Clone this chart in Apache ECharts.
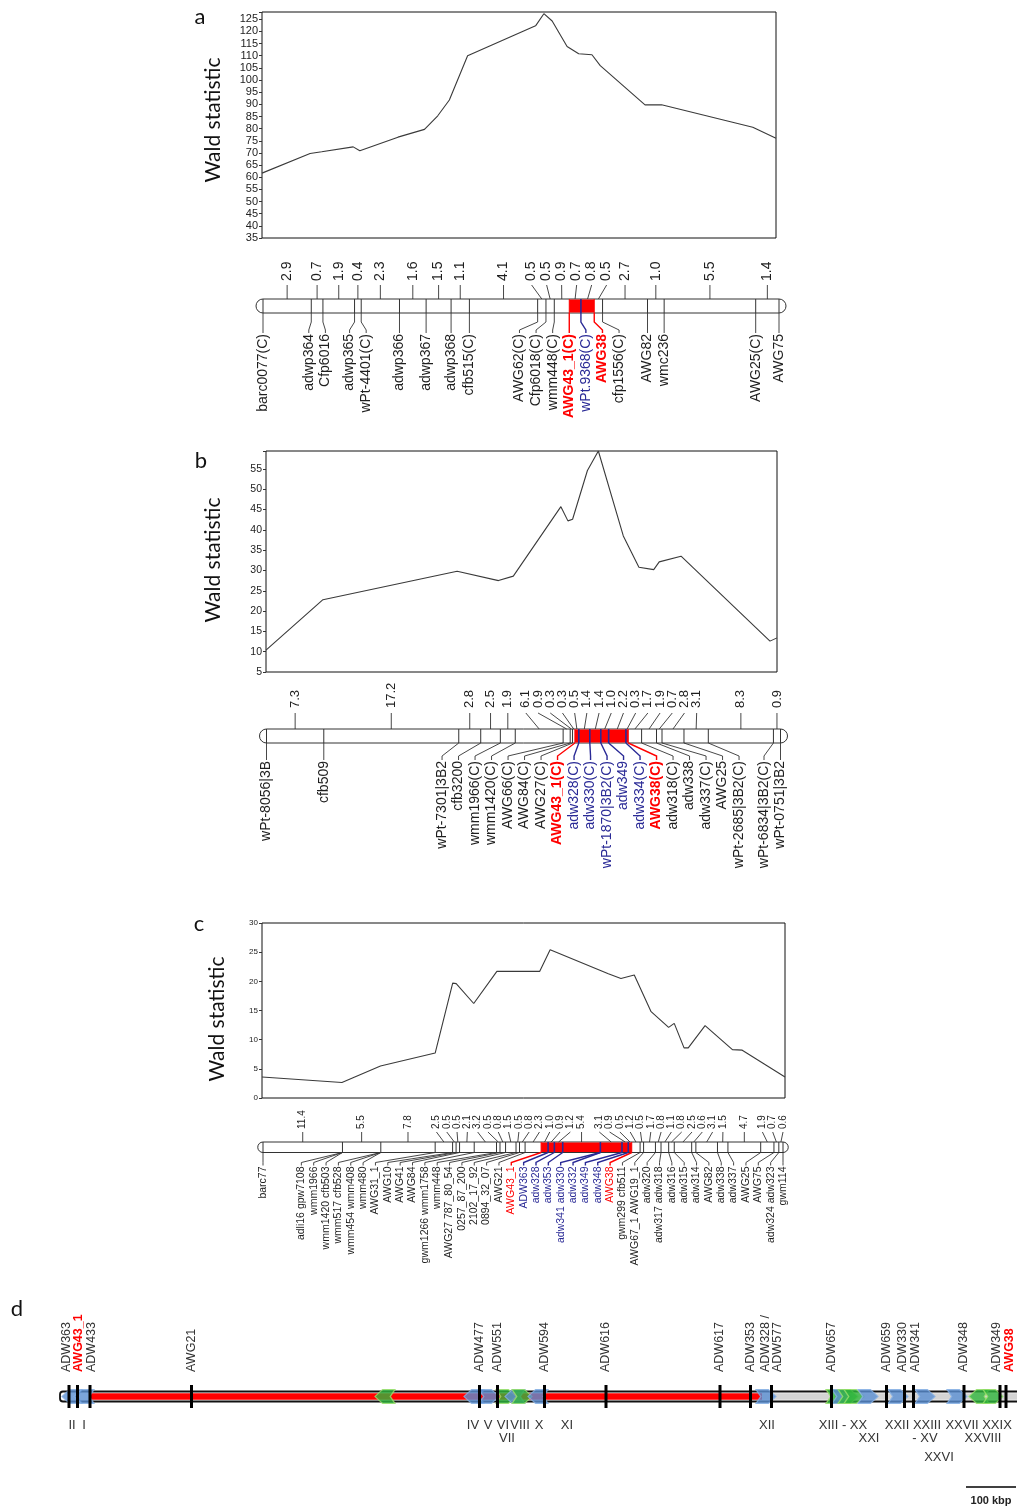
<!DOCTYPE html>
<html>
<head>
<meta charset="utf-8">
<title>Wald statistic profiles and maps</title>
<script src="https://cdn.jsdelivr.net/npm/echarts@6.0.0/dist/echarts.min.js"></script>
<style>
html,body{margin:0;padding:0;background:#fff;}
#chart{width:1017px;height:1508px;}
</style>
</head>
<body>
<div id="chart"></div>
<script>
// ================= Panel a =================
const aMarkers = ['barc0077(C)','adwp364','Cfp6016','adwp365','wPt-4401(C)','adwp366','adwp367','adwp368','cfb515(C)','AWG62(C)','Cfp6018(C)','wmm448(C)','AWG43_1(C)','wPt.9368(C)','AWG38','cfp1556(C)','AWG82','wmc236','AWG25(C)','AWG75'];
const aIntervals = [2.9,0.7,1.9,0.4,2.3,1.6,1.5,1.1,4.1,0.5,0.5,0.9,0.7,0.8,0.5,2.7,1.0,5.5,1.4];
const aFlanks = ['AWG43_1(C)','AWG38'];
const aInside = ['wPt.9368(C)'];
const aPos  = [0,2.9,3.6,5.5,5.9,8.2,9.8,10.6,11.3,12.4,16.5,17.0,17.5,18.4,19.1,19.9,20.4,23.1,24.1,29.6,31.0];
const aWald = [61.7,69.8,70.5,72.5,70.9,76.5,79.7,85.3,91.8,110.0,122.3,127.3,124.3,113.8,110.8,110.4,105.9,89.8,89.8,80.6,76.0];

// ================= Panel b =================
const bMarkers = ['wPt-8056|3B','cfb509','wPt-7301|3B2','cfb3200','wmm1966(C)','wmm1420(C)','AWG66(C)','AWG84(C)','AWG27(C)','AWG43_1(C)','adw328(C)','adw330(C)','wPt-1870|3B2(C)','adw349','adw334(C)','AWG38(C)','adw318(C)','adw338','adw337(C)','AWG25','wPt-2685|3B2(C)','wPt-6834|3B2(C)','wPt-0751|3B2'];
const bIntervals = [7.3,17.2,2.8,2.5,1.9,6.1,0.9,0.3,0.3,0.5,1.4,1.4,1.0,2.2,0.3,1.7,1.9,0.7,2.8,3.1,8.3,0.9];
const bFlanks = ['AWG43_1(C)','AWG38(C)'];
const bInside = ['adw328(C)','adw330(C)','wPt-1870|3B2(C)','adw349','adw334(C)'];
const bPos  = [0,7.3,24.5,29.8,31.7,37.8,38.7,39.3,41.2,42.6,45.8,47.8,49.7,50.4,53.2,64.6,65.5];
const bWald = [10.4,22.8,29.8,27.5,28.6,45.7,42.2,42.6,54.6,59.4,38.5,30.8,30.2,32.1,33.5,12.6,13.4];

// ================= Panel c =================
const cIntervals = [11.4,5.5,7.8,2.5,0.5,0.5,2.1,3.2,0.5,0.8,1.5,0.5,0.8,2.3,1.0,0.9,1.2,5.4,3.1,0.9,0.5,1.2,0.5,1.7,0.8,1.1,0.8,2.5,0.6,3.1,1.5,4.7,1.9,0.7,0.6];
const cLabels = ['barc77','adli16 gpw7108','wmm1966','wmm1420 cfb503','wmm517 cfb528','wmm454 wmm408','wmm480','AWG31_1','AWG10','AWG41','AWG84','gwm1266 wmm1758','wmm448','AWG27 787_80_54','0257_87_200','2102_17_92','0894_32_07','AWG21','AWG43_1','ADW363','adw328','adw353','adw341 adw330','adw332','adw349','adw348','AWG38','gwm299 cfb511','AWG67_1 AWG19_1','adw320','adw317 adw318','adw316','adw315','adw314','AWG82','adw338','adw337','AWG25','AWG75','adw324 adw323','gwm114'];
const cLabelLocus = [0,1,1,1,2,2,2,3,4,5,6,7,8,9,10,11,12,13,14,15,16,17,18,18,19,20,21,22,23,24,25,26,27,28,29,30,31,32,33,34,35];
const cFlanks = ['AWG43_1','AWG38'];
const cInside = ['ADW363','adw328','adw353','adw341 adw330','adw332','adw349','adw348'];
const cPos  = [0,11.4,16.9,24.7,27.2,27.7,30.2,33.5,39.6,41.1,49.4,51.2,53.1,55.5,58.0,58.8,60.2,60.8,63.2,67.1,68.5,74.6];
const cWald = [3.6,2.65,5.5,7.7,19.7,19.6,16.2,21.7,21.7,25.4,21.3,20.5,21.1,14.8,12.1,12.8,8.6,8.6,12.4,8.3,8.2,3.6];

// ================= Panel d (kbp) =================
const dMarkers   = ['ADW363','AWG43_1','ADW433','AWG21','ADW477','ADW551','ADW594','ADW616','ADW617','ADW353','ADW328 /','ADW577','ADW657','ADW659','ADW330','ADW341','ADW348','ADW349','AWG38'];
const dMarkerKbp = [18,35,60,263,839,875,969,1092,1320,1381,1423,1423,1543,1653,1689,1707,1808,1880,1892];
const dRedMarkers = ['AWG43_1','AWG38'];
const dIntrogression = [60,1404];
const dUncertain = [1404,1914];
const dGeneKbp    = [24,48,650,828,858,892,910,924,956,1412,1552,1564,1576,1588,1616,1676,1730,1794,1838,1866];
const dGeneStrand = [-1,-1,-1,-1,1,1,-1,1,-1,1,1,1,1,1,1,1,1,1,-1,1];
const dGeneType   = ['b','b','g','b','b','g','b','g','b','b','g','b','g','g','b','b','b','b','g','g'];
const dGeneLabels   = ['II','I','IV','V','VI','VIII','X','XI','VII','XII','XIII - XX','XXI','XXII','XXIII','- XV','XXVI','XXVII','XXIX','XXVIII'];
const dGeneLabelKbp = [24,48,826,856,886,920,958,1014,894,1414,1566,1618,1674,1734,1730,1758,1804,1874,1846];
const dGeneLabelRow = [0,0,0,0,0,0,0,0,1,0,0,1,0,0,1,2,0,0,1];
const dScaleKbp = [1812,1912];
const dScaleText = '100 kbp';

// ================= helpers =================
const SANS = '"Liberation Sans", Arial, sans-serif';
const NARROW = '"Liberation Sans Narrow", "Liberation Sans", Arial, sans-serif';
const CAL = 'Lato, "Open Sans", sans-serif';
const RED = '#ff0000', BLUE = '#2a2a96', INK = '#1e1e1e';

function cum(intervals){ const p=[0]; intervals.forEach(v=>p.push(Math.round((p[p.length-1]+v)*100)/100)); return p; }
function classOf(name, flanks, inside){ return flanks.includes(name)?1:(inside.includes(name)?2:0); }
function textColor(c){ return c===1?RED:(c===2?BLUE:INK); }
function strokeColor(c){ return c===1?RED:(c===2?BLUE:'#333'); }

// 1-D label de-overlap: clusters centred on their anchors, min spacing gap
function spread(xs, gap, lo, hi){
  let cl = xs.map(x=>({n:1,sum:x}));
  const first = c => Math.min(Math.max(c.sum/c.n-(c.n-1)*gap/2, lo), hi-(c.n-1)*gap);
  let merged = true;
  while(merged){
    merged = false;
    for(let i=0;i<cl.length-1;i++){
      const a=cl[i], b=cl[i+1];
      if(first(b)-(first(a)+(a.n-1)*gap) < gap-1e-6){
        cl.splice(i,2,{n:a.n+b.n,sum:a.sum+b.sum});
        merged=true; break;
      }
    }
  }
  const out=[];
  cl.forEach(c=>{const f=first(c); for(let k=0;k<c.n;k++) out.push(f+k*gap);});
  return out;
}
function txt(x,y,rot,text,font,fill,align,valign){
  return {type:'text', x:x, y:y, rotation:rot, style:{text:text, font:font, fill:fill, align:align, verticalAlign:valign, textAlign:align, textVerticalAlign:valign}};
}

const grids=[], xAxes=[], yAxes=[], series=[];
function addGrid(g,x,y){ grids.push(g); const gi=grids.length-1; xAxes.push(Object.assign({gridIndex:gi},x)); yAxes.push(Object.assign({gridIndex:gi},y)); return gi; }

function addPlot(box, xMax, yMin, yMax, xs, ys, labelSize){
  const gi = addGrid({left:box.l, top:box.t, width:box.w, height:box.h, show:true, borderColor:'#111', borderWidth:1, backgroundColor:'rgba(0,0,0,0)'},
    {type:'value', min:0, max:xMax, show:false},
    {type:'value', min:yMin, max:yMax, interval:5,
     axisLine:{show:false}, splitLine:{show:false},
     axisTick:{show:true, length:3, lineStyle:{color:'#333'}},
     axisLabel:{fontFamily:NARROW, fontSize:labelSize, color:'#222', margin:4,
       formatter:v=>(Math.abs(v%5)<1e-9?String(v):'')}});
  series.push({type:'line', xAxisIndex:gi, yAxisIndex:gi, data:xs.map((x,i)=>[x,ys[i]]), showSymbol:false, symbol:'none', silent:true, z:3,
    lineStyle:{color:'#3a3a3a', width:1.1}});
}

function addChrom(box, loci, intervals, labels, labelLocus, labelClass, locusClass, qtl, cfg){
  const last = loci.length-1;
  const gi = addGrid({left:box.l, top:box.t, width:box.w, height:box.h},
    {type:'value', min:loci[0], max:loci[last], show:false},
    {type:'value', min:0, max:1, show:false});
  const base = {type:'custom', coordinateSystem:'cartesian2d', xAxisIndex:gi, yAxisIndex:gi, silent:true, clip:false};
  // chromosome body (capsule)
  series.push(Object.assign({}, base, {z:2, data:[[loci[0], loci[last]]], renderItem(p, api){
    const t=api.coord([api.value(0),1]), b=api.coord([api.value(1),0]);
    const h=b[1]-t[1], r=h/2;
    return {type:'rect', shape:{x:t[0]-r, y:t[1], width:b[0]-t[0]+2*r, height:h, r:r}, style:{fill:'#fff', stroke:'#333', lineWidth:1}};
  }}));
  // QTL interval
  series.push(Object.assign({}, base, {z:3, data:[[loci[qtl[0]], loci[qtl[1]]]], renderItem(p, api){
    const t=api.coord([api.value(0),1]), b=api.coord([api.value(1),0]);
    return {type:'rect', shape:{x:t[0], y:t[1]+0.5, width:b[0]-t[0], height:b[1]-t[1]-1}, style:{fill:RED}};
  }}));
  // marker ticks across the body
  series.push(Object.assign({}, base, {z:4, data:loci.map((v,i)=>[v, locusClass[i]]), renderItem(p, api){
    const t=api.coord([api.value(0),1]), b=api.coord([api.value(0),0]); const c=api.value(1);
    return {type:'line', shape:{x1:t[0], y1:t[1], x2:b[0], y2:b[1]}, style:{stroke:c===2?BLUE:(c===1?RED:'#333'), lineWidth:c===2?1.6:1}};
  }}));
  // marker labels below
  series.push(Object.assign({}, base, {z:4, data:labelLocus.map((li,j)=>[loci[li], j]), renderItem(p, api){
    const j=api.value(1);
    const m=api.coord([api.value(0),0]);
    const xs=labelLocus.map(li=>api.coord([loci[li],0])[0]);
    const lx=spread(xs, cfg.gap, xs[0], xs[xs.length-1])[j];
    const c=labelClass[j], y0=m[1];
    return {type:'group', children:[
      {type:'polyline', shape:{points:[[m[0],y0],[m[0],y0+cfg.stub],[lx,y0+cfg.stub+cfg.slant],[lx,y0+cfg.textBelow-1]]}, style:{stroke:strokeColor(c), lineWidth:c?1.4:0.9, fill:null}},
      txt(lx, y0+cfg.textBelow, Math.PI/2, labels[j], (c===1&&cfg.bold?'bold ':'')+cfg.font+'px '+SANS, textColor(c), 'right', 'middle')
    ]};
  }}));
  // interval distances above
  series.push(Object.assign({}, base, {z:4, data:intervals.map((v,i)=>[(loci[i]+loci[i+1])/2, i]), renderItem(p, api){
    const i=api.value(1);
    const m=api.coord([api.value(0),1]);
    const xs=intervals.map((v,k)=>api.coord([(loci[k]+loci[k+1])/2,1])[0]);
    const lo=api.coord([loci[0],1])[0], hi=api.coord([loci[last],1])[0];
    const lx=spread(xs, cfg.topGap, lo, hi)[i];
    return {type:'group', children:[
      {type:'line', shape:{x1:m[0], y1:m[1], x2:lx, y2:m[1]-cfg.topLen}, style:{stroke:'#333', lineWidth:0.9}},
      txt(lx, m[1]-cfg.textAbove, Math.PI/2, intervals[i].toFixed(1), cfg.topFont+'px '+SANS, INK, 'left', 'middle')
    ]};
  }}));
}

// ---------- build panels a, b ----------
function simpleChrom(markers, intervals, flanks, inside){
  const loci = cum(intervals);
  const cls = markers.map(m=>classOf(m, flanks, inside));
  const qtl = [markers.indexOf(flanks[0]), markers.indexOf(flanks[1])];
  return {loci, cls, qtl, labelLocus: markers.map((m,i)=>i)};
}

const A = simpleChrom(aMarkers, aIntervals, aFlanks, aInside);
addPlot({l:262,t:12,w:514,h:226}, A.loci[A.loci.length-1], 35, 128, aPos, aWald, 11);
addChrom({l:263,t:299,w:516,h:14}, A.loci, aIntervals, aMarkers, A.labelLocus, A.cls, A.cls, A.qtl,
  {gap:16.6, topGap:15, stub:9, slant:8, textBelow:21, topLen:14, textAbove:18, font:14, topFont:14, bold:true});

const B = simpleChrom(bMarkers, bIntervals, bFlanks, bInside);
addPlot({l:266,t:451,w:511,h:221}, B.loci[B.loci.length-1], 5, 59.4, bPos, bWald, 10.5);
addChrom({l:266.5,t:729,w:514,h:14}, B.loci, bIntervals, bMarkers, B.labelLocus, B.cls, B.cls, B.qtl,
  {gap:16.5, topGap:12.2, stub:0, slant:13, textBelow:18, topLen:16, textAbove:21, font:14, topFont:13, bold:true});

// ---------- panel c ----------
const cLoci = cum(cIntervals);
const cLabelClass = cLabels.map(n=>classOf(n, cFlanks, cInside));
const cLocusClass = cLoci.map((v,i)=>{ let c=0; cLabelLocus.forEach((li,j)=>{ if(li===i) c=Math.max(c, cLabelClass[j]===1?1:cLabelClass[j]); }); return c; });
const cQtl = [cLabelLocus[cLabels.indexOf(cFlanks[0])], cLabelLocus[cLabels.indexOf(cFlanks[1])]];
addPlot({l:262,t:923,w:523,h:175}, cLoci[cLoci.length-1], 0, 30, cPos, cWald, 8);
addChrom({l:263,t:1142,w:520,h:10.5}, cLoci, cIntervals, cLabels, cLabelLocus, cLabelClass, cLocusClass, cQtl,
  {gap:12.35, topGap:10.3, stub:0, slant:10, textBelow:14, topLen:10, textAbove:13, font:10.5, topFont:10, bold:false});

// ---------- panel d ----------
(function(){
  const gi = addGrid({left:60, top:1391.5, width:957, height:10},
    {type:'value', min:0, max:dUncertain[1], show:false},
    {type:'value', min:0, max:1, show:false});
  const base = {type:'custom', coordinateSystem:'cartesian2d', xAxisIndex:gi, yAxisIndex:gi, silent:true, clip:false};
  series.push(Object.assign({}, base, {z:2, data:[[0, dUncertain[1]]], renderItem(p, api){
    const t=api.coord([api.value(0),1]), b=api.coord([api.value(1),0]);
    return {type:'rect', shape:{x:t[0], y:t[1], width:b[0]-t[0]+4, height:b[1]-t[1], r:[3,0,0,3]}, style:{fill:'#fff', stroke:'#111', lineWidth:1.8}};
  }}));
  series.push(Object.assign({}, base, {z:3, data:[[dIntrogression[0], dIntrogression[1], 0],[dUncertain[0], dUncertain[1], 1]], renderItem(p, api){
    const t=api.coord([api.value(0),1]), b=api.coord([api.value(1),0]);
    return {type:'rect', shape:{x:t[0], y:t[1]+1.8, width:b[0]-t[0]+(api.value(2)===1?4:0), height:b[1]-t[1]-3.6}, style:{fill:api.value(2)===0?RED:'#d4d4d4'}};
  }}));
  const ARROW = 'path://M0,0 L13,0 L21,6 L13,12 L0,12 L5,6 Z';
  series.push({type:'scatter', xAxisIndex:gi, yAxisIndex:gi, z:4, silent:true, symbol:ARROW, symbolSize:[20,14],
    data:dGeneKbp.map((k,i)=>({value:[k,0.5], symbolRotate:dGeneStrand[i]<0?180:0,
      itemStyle:{color:dGeneType[i]==='g'?'#2fb53c':'#5a8fd2', borderColor:dGeneType[i]==='g'?'#9ae06a':'#86b0e4', borderWidth:1.2}}))});
  series.push(Object.assign({}, base, {z:5, data:dMarkerKbp.map((k,i)=>[k,i]), renderItem(p, api){
    const t=api.coord([api.value(0),1]), b=api.coord([api.value(0),0]);
    return {type:'line', shape:{x1:t[0], y1:t[1]-6.5, x2:b[0], y2:b[1]+6.5}, style:{stroke:'#000', lineWidth:3}};
  }}));
  series.push(Object.assign({}, base, {z:5, data:dMarkerKbp.map((k,i)=>[k,i]), renderItem(p, api){
    const i=api.value(1); const t=api.coord([api.value(0),1]);
    const xs=dMarkerKbp.map(k=>api.coord([k,1])[0]);
    const lx=spread(xs, 12.6, 0, 5000)[i];
    const red=dRedMarkers.includes(dMarkers[i]);
    return txt(lx, t[1]-19.5, Math.PI/2, dMarkers[i], (red?'bold ':'')+'12.5px '+SANS, red?RED:'#333', 'left', 'middle');
  }}));
  series.push(Object.assign({}, base, {z:5, data:dGeneLabelKbp.map((k,i)=>[k,i]), renderItem(p, api){
    const i=api.value(1); const b=api.coord([api.value(0),0]);
    const off=[23.5,36.5,55.5][dGeneLabelRow[i]];
    return txt(b[0], b[1]+off, 0, dGeneLabels[i], '13px '+SANS, '#333', 'center', 'middle');
  }}));
  series.push(Object.assign({}, base, {z:5, data:[dScaleKbp], renderItem(p, api){
    const a=api.coord([api.value(0),0]), b=api.coord([api.value(1),0]);
    return {type:'group', children:[
      {type:'line', shape:{x1:a[0], y1:a[1]+85.5, x2:b[0], y2:b[1]+85.5}, style:{stroke:'#000', lineWidth:1.5}},
      txt((a[0]+b[0])/2, a[1]+99, 0, dScaleText, 'bold 11px '+SANS, '#222', 'center', 'middle')
    ]};
  }}));
})();

const chart = echarts.init(document.getElementById('chart'), null, {renderer:'canvas'});
chart.setOption({
  animation:false,
  backgroundColor:'#fff',
  grid:grids, xAxis:xAxes, yAxis:yAxes, series:series,
  graphic:[
    txt(200,17,0,'a','22px '+CAL,'#111','center','middle'),
    txt(201,461,0,'b','22px '+CAL,'#111','center','middle'),
    txt(199,924,0,'c','22px '+CAL,'#111','center','middle'),
    txt(17,1309,0,'d','22px '+CAL,'#111','center','middle'),
    txt(213,120,Math.PI/2,'Wald statistic','21px '+CAL,'#111','center','middle'),
    txt(213,560,Math.PI/2,'Wald statistic','21px '+CAL,'#111','center','middle'),
    txt(217,1019,Math.PI/2,'Wald statistic','21px '+CAL,'#111','center','middle')
  ]
});
</script>
</body>
</html>
